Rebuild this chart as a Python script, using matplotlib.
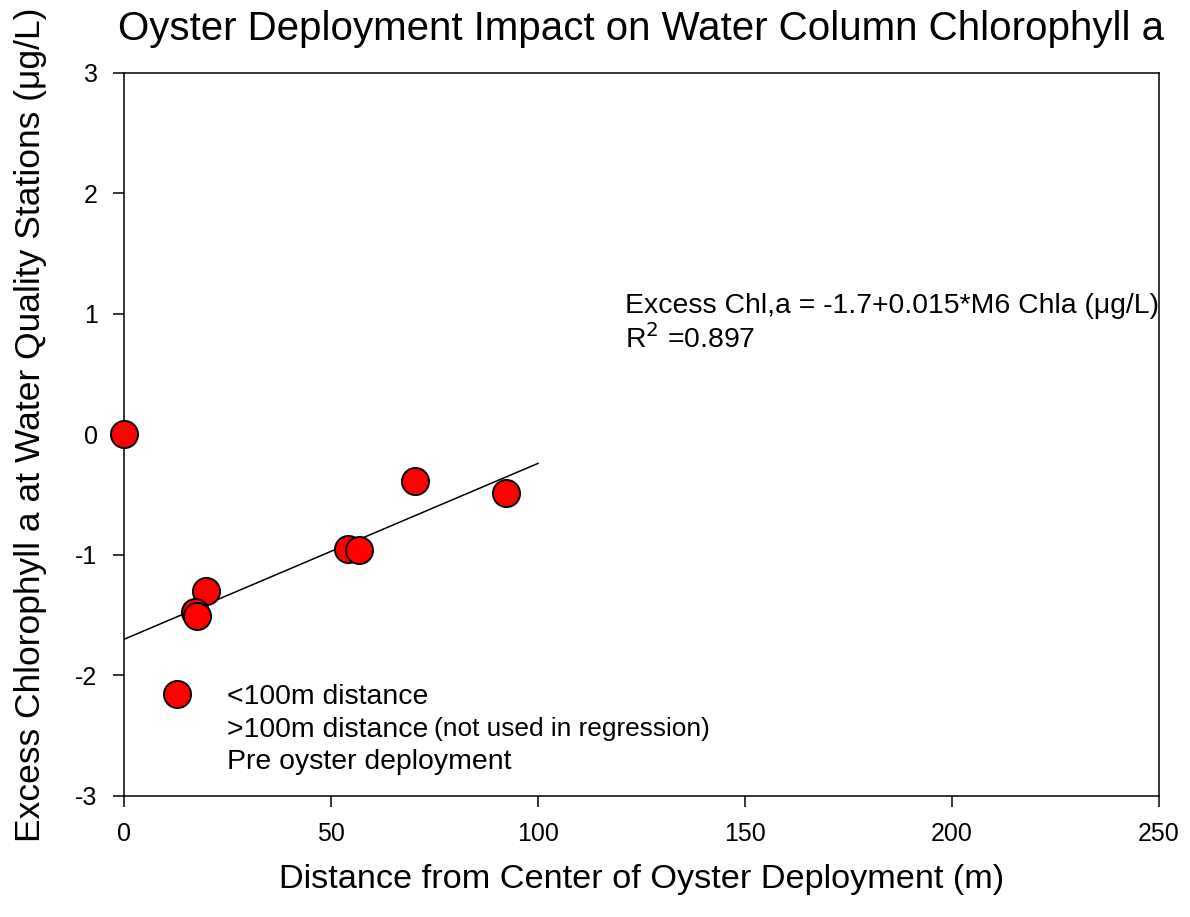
import matplotlib
matplotlib.use("Agg")
import matplotlib.pyplot as plt
from matplotlib.lines import Line2D
import numpy as np

plt.rcParams['font.family'] = ['Liberation Sans', 'DejaVu Sans']
plt.rcParams['axes.unicode_minus'] = False

# Data
distance_m = [0.0, 19.8, 17.2, 17.6, 54.1, 56.8, 70.3, 92.3]
excess_chla = [0.0, -1.30, -1.47, -1.51, -0.95, -0.96, -0.39, -0.485]
fit_intercept = -1.70
fit_slope = 0.0146
fit_range = [0, 100]
x_ticks = [0, 50, 100, 150, 200, 250]
y_ticks = [-3, -2, -1, 0, 1, 2, 3]
legend_labels = ["<100m distance", ">100m distance", "Pre oyster deployment"]

fig = plt.figure(figsize=(11.9, 9.17), dpi=100)
ax = fig.add_axes([0.1042, 0.132, 0.8698, 0.7884])

fx = np.array(fit_range, dtype=float)
ax.plot(fx, fit_intercept + fit_slope * fx, color='black', lw=1.1, zorder=2)
ax.plot(distance_m, excess_chla, linestyle='none', marker='o', markersize=19.5,
        markerfacecolor='#ff0000', markeredgecolor='black', markeredgewidth=1.4,
        zorder=3, clip_on=False)

ax.set_xlim(0, 250)
ax.set_ylim(-3, 3)
ax.set_xticks(x_ticks)
ax.set_yticks(y_ticks)
ax.tick_params(direction='out', length=8, width=1.1, labelsize=18, pad=11,
               top=False, right=False)
for s in ax.spines.values():
    s.set_linewidth(1.1)

ax.set_title("Oyster Deployment Impact on Water Column Chlorophyll a",
             fontsize=29, pad=24)
ax.set_xlabel("Distance from Center of Oyster Deployment (m)", fontsize=24.7, labelpad=13)
ax.set_ylabel("Excess Chlorophyll a at Water Quality Stations (μg/L)", fontsize=25.5)
ax.yaxis.set_label_coords(-0.074, 0.513)

ax.text(121, 0.92, "Excess Chl,a = -1.7+0.015*M6 Chla (μg/L)\nR$^2$ =0.897",
        fontsize=20.4, va='center', ha='left', linespacing=1.2)

handles = [Line2D([], [], linestyle='none', marker='o', markersize=19.5,
                  markerfacecolor='#ff0000', markeredgecolor='black',
                  markeredgewidth=1.4),
           Line2D([], [], linestyle='none'),
           Line2D([], [], linestyle='none')]
leg = ax.legend(handles, legend_labels, loc='upper left',
                bbox_to_anchor=(0.0195, 0.17), frameon=False, fontsize=20.4,
                handlelength=1.5, handletextpad=1.02, labelspacing=0.22,
                borderaxespad=0)
ax.annotate("(not used in regression)", xy=(1, 0), xycoords=leg.get_texts()[1],
            xytext=(4, 1), textcoords='offset points', fontsize=18.9,
            va='bottom', ha='left', zorder=10)

fig.savefig("out.png", dpi=100)
